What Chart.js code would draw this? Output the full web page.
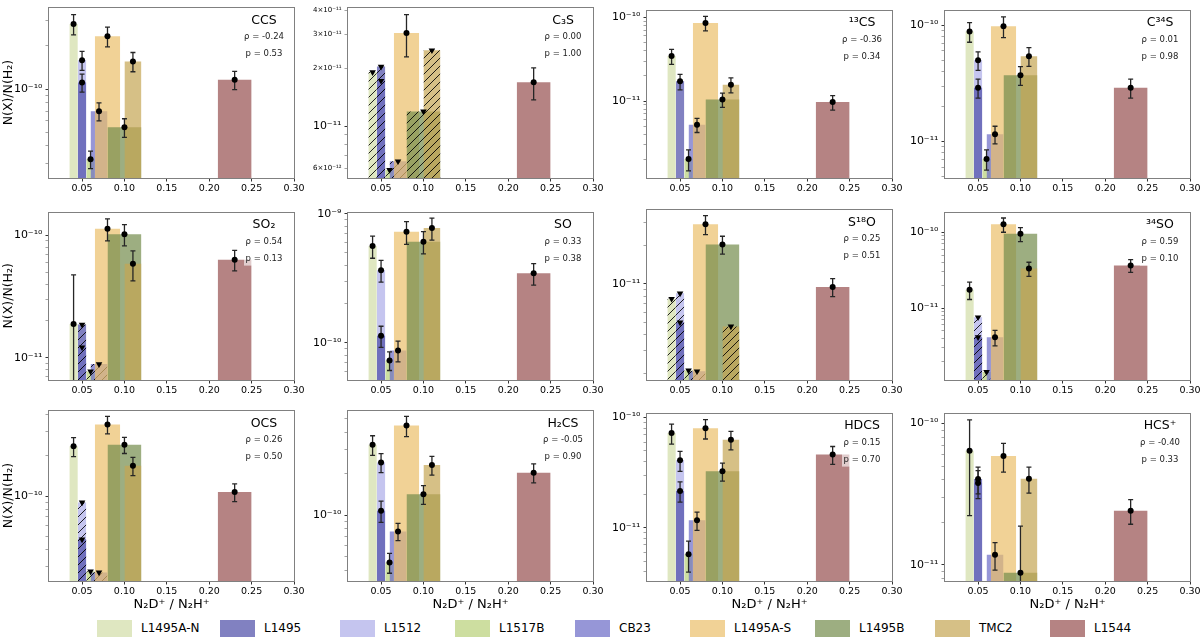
<!DOCTYPE html>
<html>
<head>
<meta charset="utf-8">
<script src="https://cdn.jsdelivr.net/npm/chart.js@4.4.1/dist/chart.umd.min.js"></script>
<style>
  html, body { margin: 0; padding: 0; background: #fff; }
  #fig { position: relative; width: 1200px; height: 639px; overflow: hidden; font-family: 'DejaVu Sans', sans-serif; }
  #fig canvas { position: absolute; }
  .leg { position: absolute; top: 619px; height: 18px; font-size: 12px; color: #000; display: flex; align-items: center; white-space: nowrap; }
  .leg .box { display: inline-block; width: 35px; height: 17px; margin-right: 9px; }
</style>
</head>
<body>
<div id="fig"></div>
<script>
// sources, their N2D+/N2H+ ratio and its uncertainty
const sources = ['L1495A-N', 'L1495', 'L1512', 'L1517B', 'CB23', 'L1495A-S', 'L1495B', 'TMC2', 'L1544'];
const ratio = [0.04, 0.05, 0.05, 0.06, 0.07, 0.08, 0.10, 0.11, 0.23];
const ratioErr = [0.005, 0.005, 0.005, 0.005, 0.01, 0.015, 0.02, 0.01, 0.02];

const molecules = ['CCS', 'C₃S', '¹³CS', 'C³⁴S', 'SO₂', 'SO', 'S¹⁸O', '³⁴SO', 'OCS', 'H₂CS', 'HDCS', 'HCS⁺'];
const rhoValues = ['-0.24', '0.00', '-0.36', '0.01', '0.54', '0.33', '0.25', '0.59', '0.26', '-0.05', '0.15', '-0.40'];
const pValues = ['0.53', '1.00', '0.34', '0.98', '0.13', '0.38', '0.51', '0.10', '0.50', '0.90', '0.70', '0.33'];

// abundances N(X)/N(H2); error null = upper limit, value null = not observed
const ccsN = [2.85e-10, 1.11e-10, 1.59e-10, 3.23e-11, 7.0e-11, 2.34e-10, 5.4e-11, 1.56e-10, 1.16e-10];
const ccsErr = [4.6e-11, 1.6e-11, 2.4e-11, 4.5e-12, 1.0e-11, 3.7e-11, 8e-12, 2.4e-11, 1.7e-11];
const c3sN = [1.91e-11, 2.04e-11, 1.72e-11, 5.9e-12, 6.55e-12, 3.05e-11, 1.19e-11, 2.48e-11, 1.69e-11];
const c3sErr = [null, null, null, null, null, 7.6e-12, null, null, 3.2e-12];
const cs13N = [3.45e-11, 1.72e-11, null, 2.03e-12, 5.2e-12, 8.6e-11, 1.04e-11, 1.57e-11, 9.7e-12];
const cs13Err = [7e-12, 3.6e-12, null, 5.7e-13, 1e-12, 1.7e-11, 2e-12, 3.2e-12, 1.9e-12];
const cs34N = [8.83e-11, 2.9e-11, 4.99e-11, 7.09e-12, 1.155e-11, 9.8e-11, 3.72e-11, 5.42e-11, 2.9e-11];
const cs34Err = [1.7e-11, 5.4e-12, 9e-12, 1.4e-12, 2e-12, 2e-11, 6.8e-12, 1e-11, 5.4e-12];
const so2N = [1.89e-11, 1.87e-11, 1.22e-11, 7.74e-12, 8.9e-12, 1.13e-10, 1.02e-10, 5.85e-11, 6.32e-11];
const so2Err = [2.86e-11, null, null, null, null, 2.3e-11, 2e-11, 1.6e-11, 1.2e-11];
const soN = [5.62e-10, 1.13e-10, 3.65e-10, 7.28e-11, 8.68e-11, 7.24e-10, 6.08e-10, 7.75e-10, 3.45e-10];
const soErr = [1.1e-10, 2.1e-11, 7e-11, 1.2e-11, 1.6e-11, 1.45e-10, 1.2e-10, 1.5e-10, 6.5e-11];
const s18oN = [7.63e-12, 5.0e-12, 8.41e-12, 2.11e-12, 2.08e-12, 2.9e-11, 2.02e-11, 4.65e-12, 9.44e-12];
const s18oErr = [null, null, null, null, null, 4.9e-12, 3.2e-12, null, 1.5e-12];
const so34N = [1.75e-11, 4.14e-12, 7.57e-12, 1.44e-12, 4.14e-12, 1.27e-10, 9.53e-11, 3.32e-11, 3.65e-11];
const so34Err = [4.5e-12, null, null, null, 9.5e-13, 2.7e-11, 2e-11, 7e-12, 7e-12];
const ocsN = [2.34e-10, 4.77e-11, 8.96e-11, 2.76e-11, 2.71e-11, 3.40e-10, 2.40e-10, 1.68e-10, 1.07e-10];
const ocsErr = [3.8e-11, null, null, null, null, 5e-11, 3.3e-11, 2.6e-11, 1.6e-11];
const h2csN = [3.25e-10, 1.08e-10, 2.42e-10, 4.55e-11, 7.65e-11, 4.48e-10, 1.42e-10, 2.32e-10, 2.04e-10];
const h2csErr = [5.3e-11, 1.9e-11, 3.8e-11, 7.5e-12, 1.1e-11, 7.5e-11, 2.2e-11, 3.6e-11, 3.2e-11];
const hdcsN = [7.24e-11, 2.16e-11, 4.1e-11, 5.78e-12, 1.17e-11, 8e-11, 3.26e-11, 6.3e-11, 4.62e-11];
const hdcsErr = [1.5e-11, 4.5e-12, 8.5e-12, 1.8e-12, 2.2e-12, 1.6e-11, 6e-12, 1.2e-11, 8.5e-12];
const hcspN = [6.43e-11, 4.05e-11, 3.8e-11, null, 1.18e-11, 5.89e-11, 8.8e-12, 4.07e-11, 2.42e-11];
const hcspErr = [4.2e-11, 8.7e-12, 8.5e-12, null, 2.6e-12, 1.35e-11, 1e-11, 8.5e-12, 4.8e-12];

const abundances = [ccsN, c3sN, cs13N, cs34N, so2N, soN, s18oN, so34N, ocsN, h2csN, hdcsN, hcspN];
const errors = [ccsErr, c3sErr, cs13Err, cs34Err, so2Err, soErr, s18oErr, so34Err, ocsErr, h2csErr, hdcsErr, hcspErr];

// y axis limits of each panel
const yMin = [2.39e-11, 5.36e-12, 1.2e-12, 4.87e-12, 6.6e-12, 5.13e-11, 1.78e-12, 1.13e-12, 2.34e-11, 3.34e-11, 3.3e-12, 7.7e-12];
const yMax = [3.73e-10, 4.16e-11, 1.24e-10, 1.36e-10, 1.56e-10, 1.04e-9, 3.8e-11, 1.87e-10, 4.34e-10, 5.79e-10, 1.11e-10, 1.196e-10];

const xTickValues = [0.05, 0.10, 0.15, 0.20, 0.25, 0.30];
const c3sMinorLabels = [6e-12, 2e-11, 3e-11, 4e-11];

const barColors = [
  'rgba(209,221,166,0.7)', 'rgba(75,75,166,0.7)', 'rgba(172,172,232,0.7)',
  'rgba(184,208,119,0.7)', 'rgba(105,105,198,0.7)', 'rgba(235,191,105,0.7)',
  'rgba(116,139,76,0.7)', 'rgba(197,165,82,0.7)', 'rgba(149,78,78,0.7)'
];
// stacking of the bars, bottom first (L1512 sits under L1495)
const drawRank = [0, 2, 1, 3, 4, 5, 6, 7, 8];

const FONT = 'DejaVu Sans';
const colLeft = [49, 348, 647, 945];
const rowTop = [1, 203, 404];
const plotW = 245, plotH = 177;

const supMap = { '-': '⁻', '0': '⁰', '1': '¹', '2': '²', '3': '³', '4': '⁴', '5': '⁵', '6': '⁶', '7': '⁷', '8': '⁸', '9': '⁹' };
function pow10(e) {
  return '10' + String(e).split('').map(ch => supMap[ch]).join('');
}
function isDecade(v) {
  const l = Math.log10(v);
  return Math.abs(l - Math.round(l)) < 1e-6;
}
function logTicks(min, max) {
  const ticks = [];
  for (let e = Math.floor(Math.log10(min)); e <= Math.ceil(Math.log10(max)); e++) {
    for (let m = 1; m <= 9; m++) {
      const v = m * Math.pow(10, e);
      if (v >= min * 0.9999 && v <= max * 1.0001) ticks.push({ value: v });
    }
  }
  return ticks;
}

function hatch(color) {
  const c = document.createElement('canvas');
  c.width = 8; c.height = 8;
  const g = c.getContext('2d');
  g.fillStyle = color;
  g.fillRect(0, 0, 8, 8);
  g.strokeStyle = 'rgba(0,0,0,0.85)';
  g.lineWidth = 1;
  g.beginPath();
  g.moveTo(0, 8); g.lineTo(8, 0);
  g.moveTo(-2, 2); g.lineTo(2, -2);
  g.moveTo(6, 10); g.lineTo(10, 6);
  g.stroke();
  return g.createPattern(c, 'repeat');
}
const hatchColors = barColors.map(hatch);

const errorBars = {
  id: 'errorBars',
  beforeDatasetDraw(chart, args) {
    const ds = chart.data.datasets[args.index];
    if (!ds.errs) return;
    const { ctx, chartArea: a, scales: { x, y } } = chart;
    ctx.save();
    ctx.beginPath();
    ctx.rect(a.left, a.top, a.right - a.left, a.bottom - a.top);
    ctx.clip();
    ctx.strokeStyle = '#262626';
    ctx.lineWidth = 1.3;
    ds.data.forEach((pt, k) => {
      const e = ds.errs[k];
      const px = x.getPixelForValue(pt.x);
      const top = y.getPixelForValue(pt.y + e);
      const lo = pt.y - e;
      const bot = lo > 0 ? y.getPixelForValue(lo) : a.bottom + 5;
      ctx.beginPath();
      ctx.moveTo(px, top); ctx.lineTo(px, bot);
      ctx.moveTo(px - 2.5, top); ctx.lineTo(px + 2.5, top);
      if (lo > 0) { ctx.moveTo(px - 2.5, bot); ctx.lineTo(px + 2.5, bot); }
      ctx.stroke();
    });
    ctx.restore();
  }
};

const panelText = {
  id: 'panelText',
  afterDraw(chart, args, opts) {
    const { ctx, chartArea: a } = chart;
    ctx.save();
    // frame
    ctx.strokeStyle = '#808080';
    ctx.lineWidth = 1;
    ctx.strokeRect(Math.round(a.left) - 0.5, Math.round(a.top) + 0.5, Math.round(a.right - a.left) + 1, Math.round(a.bottom - a.top));
    const cx = a.right - 30;
    ctx.fillStyle = 'rgba(255,255,255,0.6)';
    ctx.fillRect(a.right - 50, a.top + 22, 42, 32);
    ctx.fillStyle = '#000';
    ctx.textAlign = 'center';
    ctx.textBaseline = 'middle';
    ctx.font = '12.5px "' + FONT + '"';
    ctx.fillText(opts.name, cx, a.top + 13.5);
    ctx.fillStyle = '#222';
    ctx.font = '8.5px "' + FONT + '"';
    ctx.fillText('ρ = ' + opts.rho, cx, a.top + 30);
    ctx.fillText('p = ' + opts.p, cx, a.top + 47);
    ctx.restore();
  }
};

function buildDatasets(i) {
  const n = abundances[i], e = errors[i];
  const ds = [];
  const det = [], detErr = [], ul = [];
  sources.forEach((s, k) => {
    if (n[k] === null) return;
    const isUL = e[k] === null;
    ds.push({
      label: s,
      data: [{ x: ratio[k] - ratioErr[k], y: n[k] }, { x: ratio[k] + ratioErr[k], y: n[k] }],
      fill: 'start',
      backgroundColor: isUL ? hatchColors[k] : barColors[k],
      borderColor: 'rgba(0,0,0,0)',
      borderWidth: 0,
      pointRadius: 0,
      order: 30 - drawRank[k]
    });
    if (isUL) ul.push({ x: ratio[k], y: n[k] });
    else { det.push({ x: ratio[k], y: n[k] }); detErr.push(e[k]); }
  });
  ds.push({
    label: 'upper limits', data: ul, showLine: false, pointStyle: 'triangle', rotation: 180,
    pointRadius: 3.8, backgroundColor: '#000', borderColor: '#000', borderWidth: 0, order: 1
  });
  ds.push({
    label: 'detections', data: det, errs: detErr, showLine: false, pointStyle: 'circle',
    pointRadius: 3, backgroundColor: '#000', borderColor: '#000', borderWidth: 0, order: 0
  });
  return ds;
}

const fig = document.getElementById('fig');

molecules.forEach((mol, i) => {
  const r = Math.floor(i / 4), c = i % 4;
  const canvasLeft = c === 0 ? 0 : colLeft[c] - 50;
  const yW = colLeft[c] - canvasLeft;
  const xH = r === 2 ? 38 : 20;
  const canvas = document.createElement('canvas');
  const w = yW + plotW + 16, h = 1 + plotH + xH;
  canvas.width = w; canvas.height = h;
  canvas.style.left = canvasLeft + 'px';
  canvas.style.top = (rowTop[r] - 1) + 'px';
  canvas.style.width = w + 'px';
  canvas.style.height = h + 'px';
  fig.appendChild(canvas);

  new Chart(canvas, {
    type: 'line',
    data: { datasets: buildDatasets(i) },
    options: {
      responsive: false,
      animation: false,
      devicePixelRatio: 1,
      layout: { padding: { top: 1, right: 16, left: 0, bottom: 0 }, autoPadding: false },
      plugins: {
        legend: { display: false },
        tooltip: { enabled: false },
        panelText: { name: mol, rho: rhoValues[i], p: pValues[i] }
      },
      scales: {
        x: {
          type: 'linear',
          min: 0.011,
          max: 0.30,
          afterBuildTicks: ax => { ax.ticks = xTickValues.map(v => ({ value: v })); },
          afterFit: s => { s.height = xH; },
          ticks: {
            callback: v => v.toFixed(2),
            font: { family: FONT, size: 9.5 },
            color: '#000',
            maxRotation: 0,
            autoSkip: false,
            padding: 1
          },
          grid: { drawOnChartArea: false, tickLength: 3.5, tickColor: '#333' },
          border: { display: false },
          title: {
            display: r === 2,
            text: 'N₂D⁺ / N₂H⁺',
            font: { family: FONT, size: 13 },
            color: '#000',
            padding: { top: 0, bottom: 7 }
          }
        },
        y: {
          type: 'logarithmic',
          min: yMin[i],
          max: yMax[i],
          afterBuildTicks: ax => { ax.ticks = logTicks(yMin[i], yMax[i]); },
          afterFit: s => { s.width = yW; },
          ticks: {
            autoSkip: false,
            color: '#000',
            padding: 3,
            font: ctx => ({ family: FONT, size: isDecade(ctx.tick.value) ? 11 : 7 }),
            callback: v => {
              if (isDecade(v)) return pow10(Math.round(Math.log10(v)));
              if (i === 1 && c3sMinorLabels.some(m => Math.abs(m - v) / m < 1e-6)) {
                const e = Math.floor(Math.log10(v) + 1e-9);
                return Math.round(v / Math.pow(10, e)) + '×' + pow10(e);
              }
              return '';
            }
          },
          grid: {
            drawOnChartArea: false,
            tickLength: 3.5,
            tickColor: ctx => isDecade(ctx.tick.value) ? '#333' : '#666',
            tickWidth: ctx => isDecade(ctx.tick.value) ? 1 : 0.6
          },
          border: { display: false },
          title: {
            display: c === 0,
            text: 'N(X)/N(H₂)',
            font: { family: FONT, size: 12.5 },
            color: '#000',
            padding: { top: 1, bottom: 0 }
          }
        }
      }
    },
    plugins: [errorBars, panelText]
  });
});

// legend row
const legendX = [97, 220, 340, 455, 575, 690, 815, 935, 1050];
sources.forEach((s, k) => {
  const item = document.createElement('div');
  item.className = 'leg';
  item.style.left = legendX[k] + 'px';
  const box = document.createElement('span');
  box.className = 'box';
  box.style.background = barColors[k];
  item.appendChild(box);
  item.appendChild(document.createTextNode(s));
  fig.appendChild(item);
});
</script>
</body>
</html>
